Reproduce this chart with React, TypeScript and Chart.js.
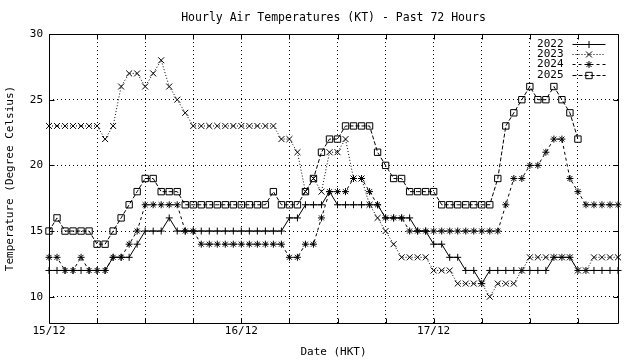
import React, { useEffect, useRef } from 'react';
import { Chart, registerables } from 'chart.js';
import { drawPoint } from 'chart.js/helpers';

Chart.register(...registerables);

// ---- data ----
const hours = Array.from({ length: 72 }, (_, i) => i);
const dateLabels = ['15/12', '16/12', '17/12'];
const dateTickHours = [0, 24, 48];
const xTickHours = [0, 6, 12, 18, 24, 30, 36, 42, 48, 54, 60, 66];
const yTickValues = [10, 15, 20, 25, 30];
const seriesNames = ['2022', '2023', '2024', '2025'];

const t2022 = [
  12, 12, 12, 12, 12, 12, 12, 12, 13, 13, 13, 14, 15, 15, 15, 16, 15, 15, 15, 15, 15, 15, 15, 15,
  15, 15, 15, 15, 15, 15, 16, 16, 17, 17, 17, 18, 17, 17, 17, 17, 17, 17, 16, 16, 16, 16, 15, 15,
  14, 14, 13, 13, 12, 12, 11, 12, 12, 12, 12, 12, 12, 12, 12, 13, 13, 13, 12, 12, 12, 12, 12, 12,
];
const t2023 = [
  23, 23, 23, 23, 23, 23, 23, 22, 23, 26, 27, 27, 26, 27, 28, 26, 25, 24, 23, 23, 23, 23, 23, 23,
  23, 23, 23, 23, 23, 22, 22, 21, 18, 19, 18, 21, 21, 22, 19, 19, 17, 16, 15, 14, 13, 13, 13, 13,
  12, 12, 12, 11, 11, 11, 11, 10, 11, 11, 11, 12, 13, 13, 13, 13, 13, 13, 12, 12, 13, 13, 13, 13,
];
const t2024 = [
  13, 13, 12, 12, 13, 12, 12, 12, 13, 13, 14, 15, 17, 17, 17, 17, 17, 15, 15, 14, 14, 14, 14, 14,
  14, 14, 14, 14, 14, 14, 13, 13, 14, 14, 16, 18, 18, 18, 19, 19, 18, 17, 16, 16, 16, 15, 15, 15,
  15, 15, 15, 15, 15, 15, 15, 15, 15, 17, 19, 19, 20, 20, 21, 22, 22, 19, 18, 17, 17, 17, 17, 17,
];
const t2025 = [
  15, 16, 15, 15, 15, 15, 14, 14, 15, 16, 17, 18, 19, 19, 18, 18, 18, 17, 17, 17, 17, 17, 17, 17,
  17, 17, 17, 17, 18, 17, 17, 17, 18, 19, 21, 22, 22, 23, 23, 23, 23, 21, 20, 19, 19, 18, 18, 18,
  18, 17, 17, 17, 17, 17, 17, 17, 19, 23, 24, 25, 26, 25, 25, 26, 25, 24, 22, null, null, null, null, null,
];

const FONT = 'DejaVu Sans Mono';

const styles = [
  { dash: [] as number[], pointStyle: 'cross', radius: 3.5 },
  { dash: [1, 2], pointStyle: 'crossRot', radius: 4.2 },
  { dash: [3, 3], pointStyle: 'star', radius: 3.5 },
  { dash: [4, 2], pointStyle: 'rect', radius: 4.5 },
];

const seriesData = [t2022, t2023, t2024, t2025];

const framePlugin = {
  id: 'gnuFrame',
  afterDatasetsDraw(chart: any) {
    const { ctx, chartArea: a, scales } = chart;
    ctx.save();
    ctx.strokeStyle = '#000';
    ctx.lineWidth = 1;
    ctx.setLineDash([]);
    const L = Math.round(a.left) + 0.5;
    const T = Math.round(a.top) + 0.5;
    const R = Math.round(a.right) + 0.5;
    const B = Math.round(a.bottom) + 0.5;
    ctx.beginPath();
    ctx.rect(L, T, R - L, B - T);
    xTickHours.forEach((h) => {
      const x = Math.round(scales.x.getPixelForValue(h)) + 0.5;
      ctx.moveTo(x, T);
      ctx.lineTo(x, T + 5);
      ctx.moveTo(x, B);
      ctx.lineTo(x, B - 5);
    });
    yTickValues.forEach((v) => {
      const y = Math.round(scales.y.getPixelForValue(v)) + 0.5;
      ctx.moveTo(L, y);
      ctx.lineTo(L + 5, y);
      ctx.moveTo(R, y);
      ctx.lineTo(R - 5, y);
    });
    ctx.stroke();

    // gnuplot-style key, top right inside the plot
    ctx.font = `11px "${FONT}"`;
    ctx.fillStyle = '#000';
    ctx.textAlign = 'right';
    ctx.textBaseline = 'middle';
    const textRight = R - 55;
    const lineStart = R - 46;
    const lineEnd = R - 13;
    seriesNames.forEach((name, i) => {
      const y = Math.round(T + 9 + i * 10.4) + 0.5;
      ctx.fillText(name, textRight, y);
      ctx.setLineDash(styles[i].dash);
      ctx.beginPath();
      ctx.moveTo(lineStart, y);
      ctx.lineTo(lineEnd, y);
      ctx.stroke();
      ctx.setLineDash([]);
      ctx.fillStyle = 'rgba(0,0,0,0)';
      drawPoint(
        ctx,
        { pointStyle: styles[i].pointStyle, radius: styles[i].radius, rotation: 0, borderWidth: 1 } as any,
        Math.round((lineStart + lineEnd) / 2),
        y
      );
      ctx.fillStyle = '#000';
    });
    ctx.restore();
  },
};

export default function App() {
  const ref = useRef<HTMLCanvasElement | null>(null);

  useEffect(() => {
    document.body.style.margin = '0';
    const canvas = ref.current;
    if (!canvas) return;
    const font = { family: FONT, size: 11, weight: 'normal' as const, lineHeight: 1.2 };
    const titleFont = { family: FONT, size: 11.5, weight: 'normal' as const, lineHeight: 1.2 };

    const chart = new Chart(canvas, {
      type: 'line',
      data: {
        labels: hours,
        datasets: seriesNames.map((name, i) => ({
          label: name,
          data: seriesData[i],
          borderColor: '#000',
          borderWidth: 1,
          borderDash: styles[i].dash,
          pointStyle: styles[i].pointStyle as any,
          pointRadius: styles[i].radius,
          pointBorderWidth: 1,
          pointBorderColor: '#000',
          pointBackgroundColor: 'rgba(0,0,0,0)',
          fill: false,
          tension: 0,
          clip: false as any,
          spanGaps: false,
        })),
      },
      options: {
        responsive: false,
        animation: false,
        devicePixelRatio: 1,
        layout: { padding: { left: 0, right: 22, top: 0, bottom: 0 } },
        plugins: {
          legend: { display: false },
          tooltip: { enabled: false },
          title: {
            display: true,
            fullSize: false,
            text: 'Hourly Air Temperatures (KT) - Past 72 Hours',
            color: '#000',
            font: titleFont,
            padding: { top: 11.5, bottom: 8.7 },
          },
        },
        scales: {
          x: {
            type: 'linear',
            min: 0,
            max: 71,
            afterBuildTicks: (s: any) => {
              s.ticks = xTickHours.map((value) => ({ value }));
            },
            afterFit: (s: any) => {
              s.height = 37;
            },
            ticks: {
              autoSkip: false,
              maxRotation: 0,
              padding: 2,
              color: '#000',
              font,
              callback: (v: any) => {
                const i = dateTickHours.indexOf(Number(v));
                return i >= 0 ? dateLabels[i] : '';
              },
            },
            grid: { color: '#000', lineWidth: 1, drawTicks: false },
            border: { display: false, dash: [1, 3] },
            title: {
              display: true,
              text: 'Date (HKT)',
              color: '#000',
              font,
              padding: { top: 0, bottom: 1.4 },
            },
          },
          y: {
            type: 'linear',
            min: 8,
            max: 30,
            afterBuildTicks: (s: any) => {
              s.ticks = yTickValues.map((value) => ({ value }));
            },
            afterFit: (s: any) => {
              s.width = 49;
            },
            ticks: { padding: 6, color: '#000', font },
            grid: { color: '#000', lineWidth: 1, drawTicks: false },
            border: { display: false, dash: [1, 3] },
            title: {
              display: true,
              text: 'Temperature (Degree Celsius)',
              color: '#000',
              font,
              padding: { top: 3.4, bottom: 0 },
            },
          },
        },
      },
      plugins: [framePlugin],
    });
    return () => chart.destroy();
  }, []);

  return (
    <div style={{ width: 640, height: 360, background: '#fff' }}>
      <canvas ref={ref} width={640} height={360} style={{ display: 'block' }} />
    </div>
  );
}
